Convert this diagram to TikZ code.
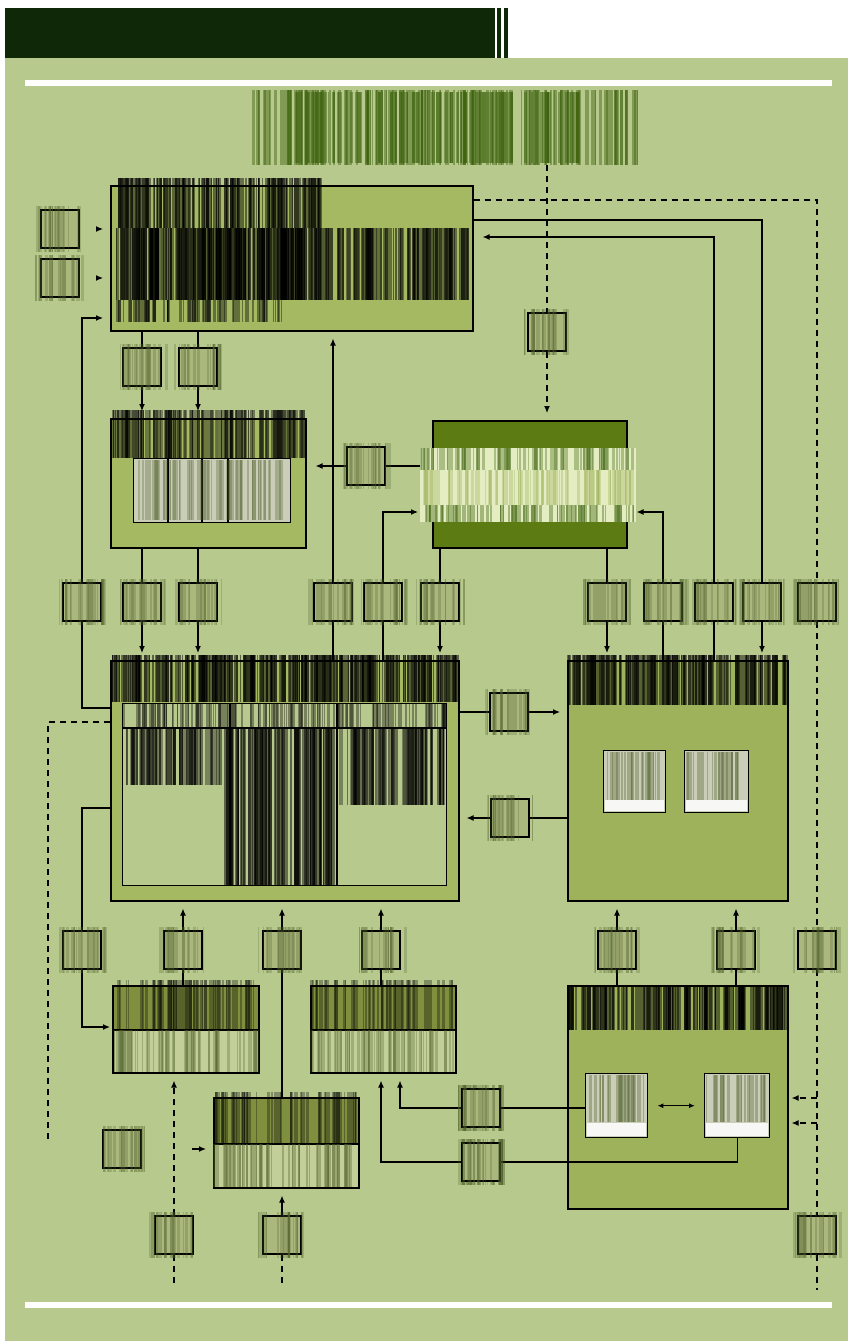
\documentclass[tikz,border=0pt]{standalone}
\usetikzlibrary{arrows.meta}
\definecolor{panel}{HTML}{B8C98E}
\definecolor{banner}{HTML}{0F2808}
\definecolor{boxa}{HTML}{A5B963}
\definecolor{boxe}{HTML}{9DB25A}
\definecolor{boxc}{HTML}{5C7B12}
\definecolor{sfill}{HTML}{AAB87E}
\definecolor{tgreen}{HTML}{3F6410}
\definecolor{scol}{HTML}{4F5F2A}
\definecolor{innerg}{HTML}{CACEB9}
\definecolor{rowdark}{HTML}{7E8F3E}
\definecolor{rowlight}{HTML}{C3CF98}
\definecolor{cband}{HTML}{E4EDC2}
\pgfdeclarelayer{bgl}
\pgfsetlayers{bgl,main}
\newcommand{\bcode}[6]{%
  \pgfmathsetmacro{\bxa}{#1}\pgfmathsetmacro{\bya}{#2}%
  \pgfmathsetmacro{\bxb}{#3}\pgfmathsetmacro{\byb}{#4}%
  \pgfmathtruncatemacro{\bn}{max(2,(\bxb-\bxa)/2.2)}%
  \foreach \bk in {1,...,\bn}{%
    \pgfmathsetmacro{\bsx}{\bxa+rnd*(\bxb-\bxa-2)}%
    \pgfmathsetmacro{\bsw}{0.6+3.2*rnd}%
    \fill[#5,opacity=#6] (\bsx,\bya) rectangle ({\bsx+\bsw},\byb);
  }}
\newcommand{\smb}[3]{%
  \node[smallbox] (#1) at (#2,#3) {};
  \bcode{#2-25}{#3-23}{#2+25}{#3+23}{scol}{0.25}}
\begin{document}
\begin{tikzpicture}[x=1pt,y=-1pt,
  bigbox/.style={draw=black,line width=1.6pt,anchor=north west,inner sep=0pt,fill=boxa},
  inbox/.style={draw=black,line width=1.4pt,anchor=north west,inner sep=0pt,fill=innerg},
  smallbox/.style={draw=black,line width=1.5pt,fill=sfill,minimum width=38pt,minimum height=38pt,inner sep=0pt},
  conn/.style={line width=1.2pt,draw=black},
  arr/.style={conn,-{Latex[length=7pt,width=6pt]},shorten >=7pt},
  dconn/.style={conn,dash pattern=on 6pt off 5pt},
  darr/.style={dconn,-{Latex[length=7pt,width=6pt]},shorten >=7pt},
  divline/.style={line width=1.4pt,draw=black}
]
\useasboundingbox (0,0) rectangle (848,1341);
\pgfmathsetseed{4242}
\begin{pgfonlayer}{bgl}
\fill[white] (0,0) rectangle (848,1341);
\fill[panel] (5,58) rectangle (848,1341);
\fill[banner] (5,8) rectangle (495,58);
\fill[banner] (497,8) rectangle (501,58);
\fill[banner] (504,8) rectangle (508,58);
\fill[white] (25,80) rectangle (832,86);
\fill[white] (25,1302) rectangle (832,1308);
\end{pgfonlayer}

% big boxes
\node[bigbox,minimum width=362pt,minimum height=145pt] (A) at (110,185) {};
\node[bigbox,minimum width=195pt,minimum height=129pt] (B) at (110,418) {};
\node[bigbox,fill=boxc,minimum width=194pt,minimum height=127pt] (C) at (432,420) {};
\node[bigbox,minimum width=348pt,minimum height=240pt] (D) at (110,660) {};
\node[bigbox,fill=boxe,minimum width=220pt,minimum height=240pt] (E) at (567,660) {};
\node[bigbox,fill=none,minimum width=146pt,minimum height=87pt] (F1) at (112,985) {};
\node[bigbox,fill=none,minimum width=145pt,minimum height=87pt] (F2) at (310,985) {};
\node[bigbox,fill=none,minimum width=145pt,minimum height=90pt] (H) at (213,1097) {};
\node[bigbox,fill=boxe,minimum width=220pt,minimum height=223pt] (G) at (567,985) {};
\node[anchor=north west,minimum width=392pt,minimum height=75pt,inner sep=0pt] (T) at (248,90) {};

% inner boxes
\node[inbox,minimum width=157pt,minimum height=64pt] (Bin) at (133,458) {};
\node[inbox,fill=panel,minimum width=324pt,minimum height=182pt] (Din) at (122,703) {};
\node[inbox,minimum width=62pt,minimum height=62pt] (E1) at (603,750) {};
\node[inbox,minimum width=64pt,minimum height=62pt] (E2) at (684,750) {};
\node[inbox,minimum width=62pt,minimum height=64pt] (G1) at (585,1073) {};
\node[inbox,minimum width=65pt,minimum height=64pt] (G2) at (704,1073) {};

% small boxes
\smb{L1}{60}{229}
\smb{L2}{60}{278}
\smb{a1}{142}{367}
\smb{a2}{198}{367}
\smb{t1}{547}{332}
\smb{c1}{366}{466}
\smb{r1}{82}{602}
\smb{r2}{142}{602}
\smb{r3}{198}{602}
\smb{r4}{333}{602}
\smb{r5}{383}{602}
\smb{r6}{440}{602}
\smb{r7}{607}{602}
\smb{r8}{663}{602}
\smb{r9}{714}{602}
\smb{r10}{762}{602}
\smb{r11}{817}{602}
\smb{m1}{509}{712}
\smb{m2}{510}{818}
\smb{b1}{82}{950}
\smb{b2}{183}{950}
\smb{b3}{282}{950}
\smb{b4}{381}{950}
\smb{b5}{617}{950}
\smb{b6}{736}{950}
\smb{b7}{817}{950}
\smb{q}{122}{1149}
\smb{g1}{481}{1108}
\smb{g2}{481}{1162}
\smb{d1}{174}{1235}
\smb{d2}{282}{1235}
\smb{d3}{817}{1235}

\begin{pgfonlayer}{bgl}
% row fills of the split boxes
\fill[rowdark] (F1.north west) rectangle ([yshift=-45pt]F1.north east);
\fill[rowlight] ([yshift=-45pt]F1.north west) rectangle (F1.south east);
\fill[rowdark] (F2.north west) rectangle ([yshift=-45pt]F2.north east);
\fill[rowlight] ([yshift=-45pt]F2.north west) rectangle (F2.south east);
\fill[rowdark] (H.north west) rectangle ([yshift=-47pt]H.north east);
\fill[rowlight] ([yshift=-47pt]H.north west) rectangle (H.south east);
% connectors
\draw[arr,shorten <=17pt] (L1.east) -- (A.west |- L1);
\draw[arr,shorten <=17pt] (L2.east) -- (A.west |- L2);
\draw[conn] (A.south -| a1) -- (a1.north);
\draw[arr] (a1.south) -- (B.north -| a1);
\draw[conn] (A.south -| a2) -- (a2.north);
\draw[arr] (a2.south) -- (B.north -| a2);
\draw[dconn] (T.south -| t1) -- (t1.north);
\draw[darr] (t1.south) -- (C.north -| t1);
\draw[conn] (C.west |- c1) -- (c1.east);
\draw[arr,shorten >=9pt] (c1.west) -- (B.east |- c1);
\draw[conn] ([yshift=-48pt]D.north west) -| (r1.south);
\draw[arr] (r1.north) |- ([yshift=-133pt]A.north west);
\draw[conn] (B.south -| r2) -- (r2.north);
\draw[arr] (r2.south) -- (D.north -| r2);
\draw[conn] (B.south -| r3) -- (r3.north);
\draw[arr] (r3.south) -- (D.north -| r3);
\draw[conn] (D.north -| r4) -- (r4.south);
\draw[arr] (r4.north) -- (A.south -| r4);
\draw[conn] (D.north -| r5) -- (r5.south);
\draw[arr,shorten >=14pt] (r5.north) |- ([yshift=-92pt]C.north west);
\draw[conn] (C.south -| r6) -- (r6.north);
\draw[arr] (r6.south) -- (D.north -| r6);
\draw[conn] (C.south -| r7) -- (r7.north);
\draw[arr] (r7.south) -- (E.north -| r7);
\draw[conn] (E.north -| r8) -- (r8.south);
\draw[arr,shorten >=9pt] (r8.north) |- ([yshift=-92pt]C.north east);
\draw[conn] (E.north -| r9) -- (r9.south);
\draw[arr,shorten >=9pt] (r9.north) |- ([yshift=-52pt]A.north east);
\draw[conn] ([yshift=-35pt]A.north east) -| (r10.north);
\draw[arr] (r10.south) -- (E.north -| r10);
\draw[dconn] ([yshift=-15pt]A.north east) -| (r11.north);
\draw[dconn] (r11.south) -- (b7.north);
\draw[dconn] (b7.south) -- (d3.north);
\draw[dconn] (d3.south) -- ++(0,35);
\coordinate (gA) at ([yshift=-113pt]G.north east);
\coordinate (gB) at ([yshift=-138pt]G.north east);
\draw[darr,shorten >=3pt] (gA -| b7) -- (gA);
\draw[darr,shorten >=3pt] (gB -| b7) -- (gB);
\draw[dconn] ([yshift=-62pt]D.north west) -- ++(-62,0) -- ++(0,418);
\draw[conn] (D.east |- m1) -- (m1.west);
\draw[arr] (m1.east) -- (E.west |- m1);
\draw[conn] (E.west |- m2) -- (m2.east);
\draw[arr] (m2.west) -- (D.east |- m2);
\draw[conn] ([yshift=-148pt]D.north west) -| (b1.north);
\draw[arr,shorten >=2pt] (b1.south) |- ([yshift=-42pt]F1.north west);
\draw[conn] (F1.north -| b2) -- (b2.south);
\draw[arr] (b2.north) -- (D.south -| b2);
\draw[conn] (H.north -| b3) -- (b3.south);
\draw[arr] (b3.north) -- (D.south -| b3);
\draw[conn] (F2.north -| b4) -- (b4.south);
\draw[arr] (b4.north) -- (D.south -| b4);
\draw[conn] (G.north -| b5) -- (b5.south);
\draw[arr] (b5.north) -- (E.south -| b5);
\draw[conn] (G.north -| b6) -- (b6.south);
\draw[arr] (b6.north) -- (E.south -| b6);
\draw[dconn] (d1.south) -- ++(0,30);
\draw[darr] (d1.north) -- (F1.south -| d1);
\draw[dconn] (d2.south) -- ++(0,30);
\draw[arr] (d2.north) -- (H.south -| d2);
\draw[arr,shorten <=50pt] (q.east) -- (H.west |- q);
\draw[arr] (g1.west) -| ([xshift=90pt]F2.south west);
\draw[arr] (g2.west) -| (F2.south -| b4);
\end{pgfonlayer}

% connectors that run inside box G
\draw[conn] (g1.east) -- (G1.west |- g1);
\draw[conn] (G2.south) |- (g2.east);
\draw[conn,{Latex[length=6pt,width=5pt]}-{Latex[length=6pt,width=5pt]},shorten <=9pt,shorten >=9pt] (G1.east) -- (G2.west);
\node[smallbox] at (g1) {};
\node[smallbox] at (g2) {};
\bcode{456}{1085}{506}{1131}{scol}{0.25}
\bcode{456}{1139}{506}{1185}{scol}{0.25}

% dividers
\draw[divline] ([yshift=-45pt]F1.north west) -- ([yshift=-45pt]F1.north east);
\draw[divline] ([yshift=-45pt]F2.north west) -- ([yshift=-45pt]F2.north east);
\draw[divline] ([yshift=-47pt]H.north west) -- ([yshift=-47pt]H.north east);
\draw[divline] ([xshift=35pt]Bin.north west) -- ([xshift=35pt]Bin.south west);
\draw[divline] ([xshift=69pt]Bin.north west) -- ([xshift=69pt]Bin.south west);
\draw[divline] ([xshift=95pt]Bin.north west) -- ([xshift=95pt]Bin.south west);
\draw[divline] ([yshift=-25pt]Din.north west) -- ([yshift=-25pt]Din.north east);
\draw[divline] ([xshift=108pt]Din.north west) -- ([xshift=108pt]Din.south west);
\draw[divline] ([xshift=215pt]Din.north west) -- ([xshift=215pt]Din.south west);

% light band of box C
\fill[cband] (420,448) rectangle (636,522);
\bcode{420}{448}{636}{470}{tgreen}{0.35}
\bcode{420}{470}{636}{505}{boxe}{0.35}
\bcode{420}{505}{636}{522}{tgreen}{0.4}

% white strips at the foot of the inner boxes
\fill[white!85!innerg] (604.5,800) rectangle (664.3,811.3);
\fill[white!85!innerg] (685.5,800) rectangle (747.3,811.3);
\fill[white!85!innerg] (586.5,1123) rectangle (646.3,1136.3);
\fill[white!85!innerg] (705.5,1123) rectangle (768.3,1136.3);

% text-like stripe areas
\bcode{248}{90}{640}{165}{tgreen}{0.45}
\bcode{290}{92}{580}{163}{tgreen}{0.5}
\bcode{115}{178}{322}{228}{black}{0.45}
\bcode{115}{178}{322}{228}{black}{0.45}
\bcode{115}{228}{470}{300}{black}{0.5}
\bcode{115}{228}{470}{300}{black}{0.4}
\bcode{115}{228}{320}{300}{black}{0.5}
\bcode{115}{300}{285}{322}{black}{0.4}
\bcode{112}{410}{305}{458}{black}{0.4}
\bcode{112}{410}{305}{458}{black}{0.35}
\bcode{135}{460}{288}{520}{scol}{0.3}
\bcode{112}{655}{458}{702}{black}{0.5}
\bcode{112}{655}{458}{702}{black}{0.45}
\bcode{122}{703}{446}{728}{black}{0.35}
\bcode{124}{728}{222}{785}{black}{0.45}
\bcode{124}{728}{222}{785}{black}{0.35}
\bcode{222}{728}{337}{885}{black}{0.5}
\bcode{222}{728}{337}{885}{black}{0.45}
\bcode{337}{728}{446}{805}{black}{0.45}
\bcode{337}{728}{446}{805}{black}{0.35}
\bcode{567}{655}{787}{705}{black}{0.45}
\bcode{567}{655}{787}{705}{black}{0.45}
\bcode{605}{752}{663}{800}{scol}{0.35}
\bcode{686}{752}{746}{800}{scol}{0.35}
\bcode{112}{980}{258}{1030}{black}{0.3}
\bcode{112}{1030}{258}{1072}{scol}{0.3}
\bcode{310}{980}{455}{1030}{black}{0.3}
\bcode{310}{1030}{455}{1072}{scol}{0.3}
\bcode{213}{1092}{358}{1144}{black}{0.3}
\bcode{213}{1144}{358}{1187}{scol}{0.35}
\bcode{567}{985}{787}{1030}{black}{0.45}
\bcode{567}{985}{787}{1030}{black}{0.45}
\bcode{587}{1075}{645}{1122}{scol}{0.35}
\bcode{706}{1075}{767}{1122}{scol}{0.35}
\end{tikzpicture}
\end{document}
